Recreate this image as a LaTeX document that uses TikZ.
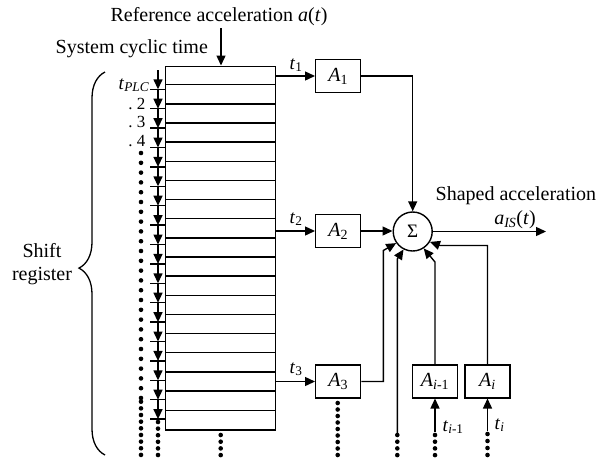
\documentclass[tikz,border=0pt]{standalone}
\usepackage{fontspec}
\setmainfont{Liberation Serif}
\usetikzlibrary{arrows.meta,decorations.pathreplacing,calc}
\begin{document}
\begin{tikzpicture}[x=1pt,y=-1pt,line width=1.4pt,
  blk/.style={draw,line width=1.4pt,minimum width=45pt,minimum height=33pt,inner sep=0pt,font=\fontsize{20}{24}\selectfont},
  arr/.style={-{Triangle[length=10pt,width=9pt]},line width=1.4pt},
  txt/.style={font=\fontsize{20}{24}\selectfont,inner sep=0pt},
  lbl/.style={font=\fontsize{19}{23}\selectfont,inner sep=0pt},
  num/.style={font=\fontsize{17}{20}\selectfont,inner sep=0pt}
]
\useasboundingbox (0,0) rectangle (596,461);

% texts at top
\node[txt,anchor=base] (ref) at (219,21) {Reference acceleration \textit{a}(\textit{t})};
\node[txt,anchor=base west] (sys) at (55,53) {System cyclic time};

% shift register
\node[draw,minimum width=109.5pt,minimum height=363.8pt,inner sep=0pt,anchor=north west] (reg) at (165,65.5) {};
\foreach \k in {1,...,18} \draw (165,{65.5+19.15*\k}) -- (274.5,{65.5+19.15*\k});

\coordinate (rs) at (221,28);
\draw[arr] (rs) -- (rs |- reg.north);

% clock arrows and ticks
\foreach \k in {1,...,18} {
  \pgfmathsetmacro\yy{89.3+19.4*(\k-1)}
  \pgfmathsetmacro\yp{max(70,\yy-19.4)}
  \draw (150,\yy) -- (165,\yy);
  \draw[arr] (158,\yp) -- (158,\yy);
}

% left labels
\node[lbl,anchor=base east] (tplc) at (150,89) {\textit{t}\textsubscript{\textit{PLC}}};
\node[num,anchor=base east] (n2) at (146,109) {.~2};
\node[num,anchor=base east] (n3) at (146,127) {.~3};
\node[num,anchor=base east] (n4) at (146,146) {.~4};

% dot columns
\foreach \i in {0,...,25} \fill (141,{153+9.8*\i}) circle (2.3pt);
\foreach \i in {0,...,8} \fill (141,{401.7+6.65*\i}) circle (2.3pt);
\foreach \i in {0,...,5} \fill (158,{422+6.6*\i}) circle (2.3pt);
\foreach \i in {0,...,3} \fill (220.7,{435+6.7*\i}) circle (2.3pt);
\foreach \i in {0,...,8} \fill (337.7,{403+6.5*\i}) circle (2.3pt);
\foreach \i in {0,...,3} \fill (397.3,{435+6.7*\i}) circle (2.3pt);
\foreach \i in {0,...,3} \fill (435,{435+6.7*\i}) circle (2.3pt);
\foreach \i in {0,...,3} \fill (487.5,{434+7*\i}) circle (2.3pt);

% brace
\draw[line width=1.3pt,decorate,decoration={brace,amplitude=26pt,aspect=0.488}] (105,455) -- (105,72);
\node[txt,align=center] (shift) at (42,264) {Shift\\[-1pt]register};

% blocks
\node[blk] (A1) at (338.2,76) {\textit{A}\textsubscript{1}};
\node[blk] (A2) at (338.2,231) {\textit{A}\textsubscript{2}};
\node[blk] (A3) at (338.2,381.5) {\textit{A}\textsubscript{3}};
\node[blk] (Ai1) at (435,381.3) {\textit{A}\textsubscript{\textit{i}-1}};
\node[blk] (Ai) at (487.5,381.3) {\textit{A}\textsubscript{\textit{i}}};
\node[draw,circle,minimum size=39pt,inner sep=0pt,line width=1.4pt,font=\fontsize{19}{22}\selectfont] (sum) at (412.7,231.5) {Σ};

% inputs from register
\draw[arr] (reg.east |- A1.west) -- (A1.west);
\draw[arr] (reg.east |- A2.west) -- (A2.west);
\draw[arr] (reg.east |- A3.west) -- (A3.west);
\node[lbl,anchor=base] (t1) at (296,69) {\textit{t}\textsubscript{1}};
\node[lbl,anchor=base] (t2) at (296,223) {\textit{t}\textsubscript{2}};
\node[lbl,anchor=base] (t3) at (296,373) {\textit{t}\textsubscript{3}};

% into sum
\draw[arr] (A1.east) -| (sum.north);
\draw[arr] (A2.east) -- (A2.east -| sum.west);
\coordinate (c3) at (383.3,250.5);
\draw[arr] (A3.east) -| (c3) -- (sum.215);
\coordinate (v0) at (397.3,433);
\coordinate (v1) at (397.3,259);
\draw[arr] (v0) -- (v1) -- (sum.243);
\coordinate (h1) at (435,262);
\draw[arr] (Ai1.north) -- (Ai1.north |- h1) -- (sum.303);
\coordinate (h2) at (440,245.5);
\draw[arr] (Ai.north) |- (h2) -- (sum.329);

% bottom inputs
\coordinate (s1) at (435,432);
\coordinate (s2) at (487.5,431);
\draw[arr] (s1) -- (Ai1.south);
\draw[arr] (s2) -- (Ai.south);
\node[lbl,anchor=base west] (ti1) at (442,431) {\textit{t}\textsubscript{\textit{i}-1}};
\node[lbl,anchor=base west] (ti) at (494,429) {\textit{t}\textsubscript{\textit{i}}};

% output
\coordinate (out) at (546,231.5);
\draw[arr] (sum.east) -- (out);
\node[txt,anchor=base west] (shaped) at (435,200) {Shaped acceleration};
\node[txt,anchor=base] (ais) at (515,224) {\textit{a}\textsubscript{\textit{IS}}(\textit{t})};
\end{tikzpicture}
\end{document}
